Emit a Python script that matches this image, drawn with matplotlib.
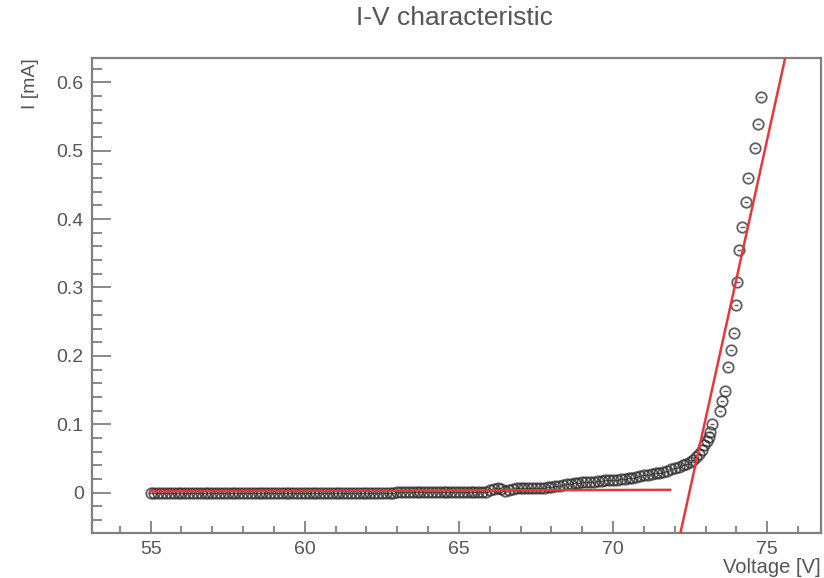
import matplotlib
matplotlib.use('Agg')
import matplotlib.pyplot as plt
from matplotlib.ticker import MultipleLocator, FuncFormatter

plt.rcParams['font.family'] = ['Liberation Sans', 'DejaVu Sans']

# measured points (V, mA)
voltage = [55.0, 55.125, 55.25, 55.375, 55.5, 55.625, 55.75, 55.875,
           56.0, 56.125, 56.25, 56.375, 56.5, 56.625, 56.75, 56.875,
           57.0, 57.125, 57.25, 57.375, 57.5, 57.625, 57.75, 57.875,
           58.0, 58.125, 58.25, 58.375, 58.5, 58.625, 58.75, 58.875,
           59.0, 59.125, 59.25, 59.375, 59.5, 59.625, 59.75, 59.875,
           60.0, 60.125, 60.25, 60.375, 60.5, 60.625, 60.75, 60.875,
           61.0, 61.125, 61.25, 61.375, 61.5, 61.625, 61.75, 61.875,
           62.0, 62.125, 62.25, 62.375, 62.5, 62.625, 62.75, 62.875,
           63.0, 63.125, 63.25, 63.375, 63.5, 63.625, 63.75, 63.875,
           64.0, 64.125, 64.25, 64.375, 64.5, 64.625, 64.75, 64.875,
           65.0, 65.125, 65.25, 65.375, 65.5, 65.625, 65.75, 65.875,
           66.0, 66.125, 66.25, 66.375, 66.5, 66.625, 66.75, 66.875,
           67.0, 67.125, 67.25, 67.375, 67.5, 67.625, 67.75, 67.875,
           68.0, 68.125, 68.25, 68.375, 68.5, 68.625, 68.75, 68.875,
           69.0, 69.125, 69.25, 69.375, 69.5, 69.625, 69.75, 69.875,
           70.0, 70.125, 70.25, 70.375, 70.5, 70.625, 70.75, 70.875,
           71.0, 71.125, 71.25, 71.375, 71.5, 71.625, 71.75, 71.875,
           72.0, 72.125, 72.25, 72.375, 72.5, 72.6, 72.7, 72.8, 72.88, 72.96,
           73.04, 73.1, 73.15, 73.2, 73.47, 73.53, 73.64,
           73.72, 73.82, 73.91, 73.99, 74.03, 74.08, 74.19, 74.31, 74.37, 74.59, 74.7, 74.78]
current = [0.000, 0.000, 0.000, 0.000, 0.000, 0.000, 0.000, 0.000,
           0.000, 0.000, 0.000, 0.000, 0.000, 0.000, 0.000, 0.000,
           0.000, 0.000, 0.000, 0.000, 0.000, 0.000, 0.000, 0.000,
           0.000, 0.000, 0.000, 0.000, 0.000, 0.000, 0.000, 0.000,
           0.000, 0.000, 0.000, 0.000, 0.000, 0.000, 0.000, 0.000,
           0.000, 0.000, 0.000, 0.000, 0.000, 0.000, 0.000, 0.000,
           0.000, 0.000, 0.000, 0.000, 0.000, 0.000, 0.000, 0.000,
           0.000, 0.000, 0.000, 0.000, 0.000, 0.000, 0.000, 0.000,
           0.001, 0.001, 0.001, 0.001, 0.001, 0.001, 0.001, 0.001,
           0.001, 0.001, 0.001, 0.001, 0.001, 0.001, 0.001, 0.001,
           0.001, 0.001, 0.001, 0.001, 0.001, 0.001, 0.001, 0.001,
           0.004, 0.005, 0.006, 0.005, 0.003, 0.004, 0.005, 0.006,
           0.006, 0.006, 0.006, 0.007, 0.007, 0.007, 0.007, 0.008,
           0.008, 0.009, 0.010, 0.011, 0.013, 0.013, 0.014, 0.014,
           0.015, 0.015, 0.016, 0.016, 0.017, 0.017, 0.018, 0.018,
           0.019, 0.019, 0.020, 0.020, 0.021, 0.022, 0.023, 0.024,
           0.025, 0.026, 0.027, 0.028, 0.029, 0.030, 0.032, 0.034,
           0.036, 0.038, 0.040, 0.042, 0.045, 0.048, 0.052, 0.057, 0.063, 0.069,
           0.075, 0.082, 0.088, 0.100, 0.119, 0.134, 0.148,
           0.184, 0.209, 0.234, 0.274, 0.308, 0.355, 0.389, 0.425, 0.460, 0.504, 0.539, 0.578]

# fitted lines (end points)
fit_flat_v = [55.0, 71.85]
fit_flat_i = [0.002, 0.004]
fit_rise_v = [72.1, 75.7]
fit_rise_i = [-0.0757, 0.6605]

fig = plt.figure(figsize=(8.24, 5.78), dpi=100)
ax = fig.add_axes([0.1117, 0.078, 0.885, 0.822])

ax.errorbar(voltage, current, xerr=0.07, fmt='o', ms=7.5, mfc='none', mec='#2a2a2a',
            mew=1.3, ecolor='#2a2a2a', elinewidth=1.0, capsize=0, alpha=0.75, zorder=2)
ax.plot(fit_flat_v, fit_flat_i, color='#e5383b', lw=1.8, zorder=3)
ax.plot(fit_rise_v, fit_rise_i, color='#e5383b', lw=1.8, zorder=3)

ax.set_xlim(53.1, 76.75)
ax.set_ylim(-0.059, 0.636)

ax.xaxis.set_major_locator(MultipleLocator(5))
ax.xaxis.set_minor_locator(MultipleLocator(1))
ax.yaxis.set_major_locator(MultipleLocator(0.1))
ax.yaxis.set_minor_locator(MultipleLocator(0.02))
ax.yaxis.set_major_formatter(FuncFormatter(lambda v, p: '0' if abs(v) < 1e-9 else f'{v:.1f}'))

grey = '#808080'
txt = '#555555'
for s in ax.spines.values():
    s.set_color(grey)
    s.set_linewidth(1.6)
ax.tick_params(axis='both', which='both', direction='in', color=grey, width=1.3,
               labelcolor=txt, labelsize=14, top=False, right=False)
ax.tick_params(axis='y', which='major', length=14, pad=6)
ax.tick_params(axis='y', which='minor', length=7)
ax.tick_params(axis='x', which='major', length=9, pad=6)
ax.tick_params(axis='x', which='minor', length=5)

fig.text(0.552, 0.968, 'I-V characteristic', ha='center', va='center', fontsize=19, color=txt)
fig.text(0.037, 0.9, 'I [mA]', rotation=90, ha='center', va='top', fontsize=14, color=txt)
fig.text(0.996, 0.002, 'Voltage [V]', ha='right', va='bottom', fontsize=14.5, color=txt)

fig.savefig('out.png', dpi=100)
